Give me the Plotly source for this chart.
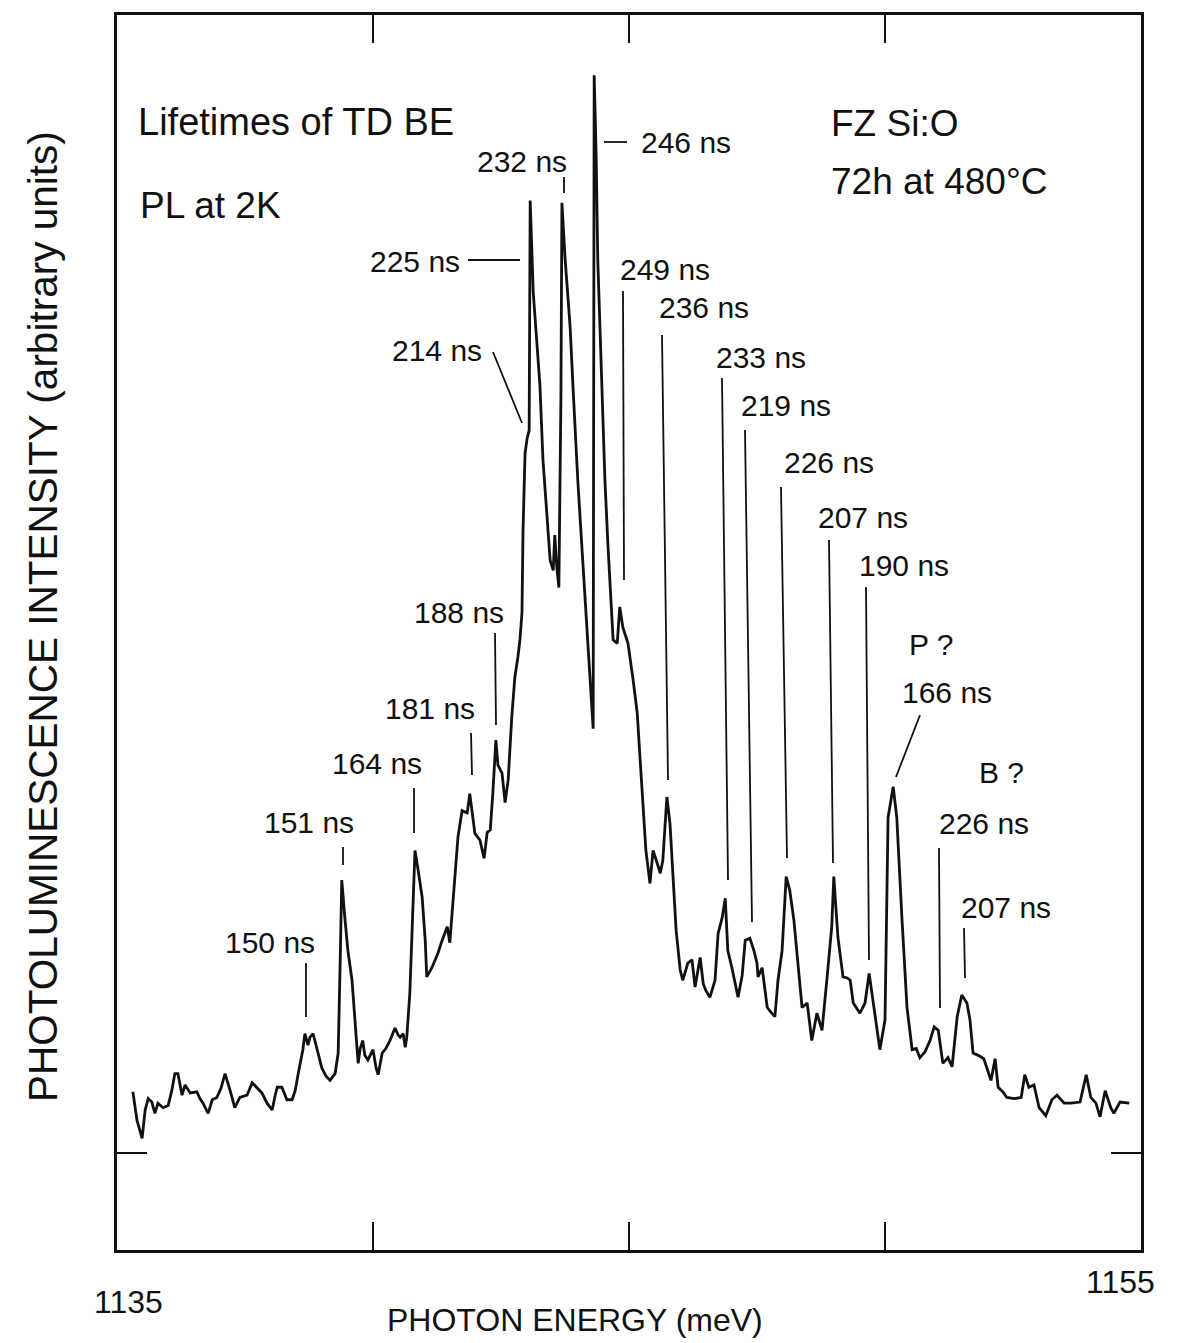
import plotly.graph_objects as go

# ---- data (photon energy in meV, PL intensity in arbitrary units) ----
energy = [
    1135.31, 1135.39, 1135.49, 1135.55, 1135.61, 1135.68, 1135.74, 1135.80, 1135.90, 1136.00,
    1136.07, 1136.13, 1136.19, 1136.27, 1136.33, 1136.43, 1136.56, 1136.62, 1136.68, 1136.74,
    1136.78, 1136.86, 1136.95, 1137.03, 1137.11, 1137.21, 1137.30, 1137.40, 1137.54, 1137.64,
    1137.73, 1137.83, 1137.93, 1138.03, 1138.09, 1138.13, 1138.22, 1138.32, 1138.42, 1138.48,
    1138.54, 1138.63, 1138.67, 1138.73, 1138.77, 1138.83, 1138.91, 1139.00, 1139.08, 1139.16,
    1139.26, 1139.32, 1139.36, 1139.39, 1139.45, 1139.51, 1139.59, 1139.65, 1139.71, 1139.75,
    1139.80, 1139.84, 1139.90, 1140.00, 1140.06, 1140.10, 1140.18, 1140.25, 1140.33, 1140.43,
    1140.49, 1140.53, 1140.59, 1140.63, 1140.66, 1140.72, 1140.78, 1140.82, 1140.88, 1140.96,
    1141.02, 1141.05, 1141.15, 1141.27, 1141.35, 1141.45, 1141.50, 1141.56, 1141.62, 1141.66,
    1141.74, 1141.84, 1141.89, 1141.99, 1142.09, 1142.17, 1142.23, 1142.29, 1142.34, 1142.40,
    1142.44, 1142.52, 1142.58, 1142.64, 1142.71, 1142.77, 1142.83, 1142.87, 1142.91, 1142.93,
    1142.97, 1143.01, 1143.05, 1143.07, 1143.13, 1143.20, 1143.26, 1143.32, 1143.38, 1143.42,
    1143.46, 1143.52, 1143.55, 1143.59, 1143.63, 1143.67, 1143.69, 1143.75, 1143.85, 1143.91,
    1144.00, 1144.10, 1144.20, 1144.26, 1144.30, 1144.32, 1144.36, 1144.39, 1144.47, 1144.53,
    1144.59, 1144.67, 1144.69, 1144.77, 1144.82, 1144.88, 1144.98, 1145.08, 1145.16, 1145.23,
    1145.33, 1145.41, 1145.47, 1145.55, 1145.61, 1145.66, 1145.74, 1145.80, 1145.86, 1145.92,
    1146.00, 1146.05, 1146.15, 1146.23, 1146.29, 1146.39, 1146.45, 1146.50, 1146.58, 1146.68,
    1146.74, 1146.82, 1146.88, 1146.93, 1147.01, 1147.13, 1147.21, 1147.27, 1147.36, 1147.44,
    1147.50, 1147.52, 1147.60, 1147.70, 1147.77, 1147.85, 1147.91, 1147.99, 1148.07, 1148.14,
    1148.22, 1148.28, 1148.38, 1148.48, 1148.57, 1148.67, 1148.77, 1148.87, 1148.96, 1149.00,
    1149.08, 1149.18, 1149.26, 1149.32, 1149.38, 1149.51, 1149.61, 1149.69, 1149.77, 1149.84,
    1149.90, 1150.00, 1150.06, 1150.16, 1150.23, 1150.33, 1150.43, 1150.53, 1150.61, 1150.68,
    1150.78, 1150.88, 1150.96, 1151.04, 1151.13, 1151.23, 1151.31, 1151.41, 1151.50, 1151.60,
    1151.66, 1151.72, 1151.82, 1151.93, 1152.07, 1152.15, 1152.21, 1152.30, 1152.38, 1152.52,
    1152.66, 1152.73, 1152.81, 1152.91, 1153.01, 1153.14, 1153.26, 1153.36, 1153.50, 1153.63,
    1153.81, 1153.93, 1154.02, 1154.12, 1154.20, 1154.30, 1154.41, 1154.47, 1154.59, 1154.77,
]
intensity = [
    5.4, 2.9, 1.3, 3.8, 4.8, 4.5, 3.5, 4.4, 4.0, 4.2,
    5.5, 7.0, 7.0, 5.1, 6.0, 5.3, 5.4, 4.8, 4.4, 3.8,
    3.5, 4.7, 4.9, 5.7, 7.0, 5.5, 4.0, 4.9, 5.1, 6.2,
    5.8, 5.3, 4.4, 3.8, 5.1, 5.8, 5.8, 4.7, 4.7, 5.5,
    7.0, 9.1, 10.5, 9.5, 10.2, 10.5, 9.1, 7.5, 6.8, 6.4,
    7.0, 8.8, 17.0, 24.0, 20.7, 17.8, 15.2, 11.7, 7.9, 9.2,
    9.9, 8.6, 8.2, 9.1, 7.5, 6.9, 8.8, 9.2, 9.9, 11.0,
    10.4, 10.2, 10.5, 9.3, 10.2, 14.1, 22.0, 26.6, 24.9, 22.5,
    18.7, 15.5, 16.3, 17.6, 18.7, 19.9, 18.5, 22.2, 26.2, 27.8,
    30.1, 29.9, 31.6, 28.1, 27.5, 25.9, 28.2, 28.4, 31.6, 36.3,
    34.1, 33.4, 30.8, 32.8, 38.3, 41.8, 43.6, 45.1, 47.5, 54.7,
    61.5, 62.8, 63.5, 83.7, 75.6, 71.4, 67.5, 60.9, 57.4, 54.7,
    52.1, 51.2, 54.3, 51.5, 49.7, 66.2, 83.5, 78.7, 72.6, 67.0,
    59.1, 51.8, 44.5, 39.8, 37.3, 94.7, 87.3, 78.5, 67.0, 59.1,
    53.3, 47.5, 45.1, 44.8, 48.0, 46.2, 44.8, 41.6, 38.7, 33.7,
    26.6, 23.7, 26.6, 25.5, 24.6, 25.7, 31.3, 29.0, 23.7, 19.6,
    16.1, 15.2, 16.7, 17.0, 14.6, 17.2, 14.9, 14.3, 13.7, 15.2,
    19.3, 20.7, 22.4, 17.8, 16.3, 13.7, 15.6, 18.7, 18.9, 17.8,
    16.7, 15.5, 16.3, 12.8, 12.4, 12.0, 15.2, 17.8, 24.3, 23.1,
    20.5, 17.8, 12.8, 13.2, 9.9, 12.3, 10.8, 15.5, 19.9, 24.3,
    19.0, 15.5, 15.4, 15.2, 13.2, 12.3, 13.2, 15.8, 13.4, 11.1,
    9.1, 11.7, 29.5, 32.2, 29.5, 20.7, 12.8, 9.1, 9.2, 8.4,
    8.9, 9.9, 11.1, 10.8, 7.9, 8.4, 7.6, 12.0, 13.9, 13.2,
    11.7, 8.8, 8.6, 8.3, 6.4, 8.3, 5.8, 5.4, 4.9, 4.8,
    4.9, 6.9, 5.8, 6.0, 4.0, 3.3, 4.7, 5.1, 4.4, 4.4,
    4.5, 6.9, 4.9, 4.4, 3.2, 5.5, 4.0, 3.5, 4.5, 4.4,
]
x_ticks = [1140, 1145, 1150]
x_end_labels = ["1135", "1155"]
lifetime_labels = ["232 ns", "246 ns", "225 ns", "214 ns", "249 ns", "236 ns", "233 ns",
                   "219 ns", "226 ns", "207 ns", "190 ns", "P ?", "166 ns", "B ?",
                   "226 ns", "207 ns", "188 ns", "181 ns", "164 ns", "151 ns", "150 ns"]
info_labels = ["Lifetimes of TD BE", "PL at 2K", "FZ Si:O", "72h at 480°C"]

# ---- layout geometry (pixels of the page) ----
W, H = 1196, 1343
L, R, T, B = 117, 1141, 15, 1250


def pp(x, y):
    """page pixel -> paper coordinates"""
    return (x - L) / (R - L), (B - y) / (B - T)


BODY = "Liberation Sans, Arial, sans-serif"
INK = "#111111"

fig = go.Figure()
fig.add_trace(go.Scatter(x=energy, y=intensity, mode="lines",
                         line=dict(color=INK, width=2.8), hoverinfo="skip",
                         showlegend=False))

annotations = []

# info text (left anchored, centre y)
info_pos = [(136, 122), (138, 205), (829, 124), (829, 181)]
info_size = [38, 37, 37, 37]
for txt, (x, y), s in zip(info_labels, info_pos, info_size):
    px_, py_ = pp(x, y)
    annotations.append(dict(text=txt, x=px_, y=py_, xref="paper", yref="paper",
                            xanchor="left", yanchor="middle", showarrow=False,
                            font=dict(family=BODY, size=s, color=INK)))

ns_pos = [(475, 162), (639, 142), (368, 262), (390, 350), (618, 270), (657, 308),
          (714, 357), (739, 405), (782, 462), (816, 517), (857, 565), (907, 645),
          (900, 692), (977, 772), (937, 823), (959, 907), (412, 613), (383, 708),
          (330, 763), (262, 822), (223, 942)]
for txt, (x, y) in zip(lifetime_labels, ns_pos):
    px_, py_ = pp(x, y)
    annotations.append(dict(text=txt, x=px_, y=py_, xref="paper", yref="paper",
                            xanchor="left", yanchor="middle", showarrow=False,
                            font=dict(family=BODY, size=30, color=INK)))

# axis titles / end labels
px_, py_ = pp(43, 617)
annotations.append(dict(text="PHOTOLUMINESCENCE INTENSITY (arbitrary units)",
                        x=px_, y=py_, xref="paper", yref="paper", textangle=-90,
                        xanchor="center", yanchor="middle", showarrow=False,
                        font=dict(family=BODY, size=40.5, color=INK)))
px_, py_ = pp(575, 1320)
annotations.append(dict(text="PHOTON ENERGY (meV)", x=px_, y=py_, xref="paper", yref="paper",
                        xanchor="center", yanchor="middle", showarrow=False,
                        font=dict(family=BODY, size=32, color=INK)))
for txt, (x, y) in zip(x_end_labels, [(128, 1302), (1120, 1282)]):
    px_, py_ = pp(x, y)
    annotations.append(dict(text=txt, x=px_, y=py_, xref="paper", yref="paper",
                            xanchor="center", yanchor="middle", showarrow=False,
                            font=dict(family=BODY, size=32, color=INK)))

# pointer lines
pointers = [(564, 177, 564, 193), (604, 142, 627, 142), (468, 260, 520, 260),
            (493, 352, 522, 423), (623, 291, 624, 580), (662, 335, 668, 780),
            (722, 378, 728, 880), (745, 430, 752, 922), (781, 487, 787, 858),
            (829, 540, 833, 863), (866, 587, 869, 960), (920, 715, 896, 777),
            (939, 848, 940, 1008), (964, 928, 965, 978), (495, 633, 496, 725),
            (471, 733, 472, 775), (414, 788, 414, 833), (343, 847, 343, 865),
            (306, 963, 306, 1017)]
shapes = []
for x0, y0, x1, y1 in pointers:
    a0, b0 = pp(x0, y0)
    a1, b1 = pp(x1, y1)
    shapes.append(dict(type="line", xref="paper", yref="paper", x0=a0, y0=b0, x1=a1, y1=b1,
                       line=dict(color=INK, width=1.8)))

fig.update_layout(
    width=W, height=H, autosize=False,
    margin=dict(l=L, r=W - R, t=T, b=H - B, pad=0),
    paper_bgcolor="white", plot_bgcolor="white",
    showlegend=False,
    annotations=annotations, shapes=shapes,
    xaxis=dict(range=[1135, 1155], showline=True, linecolor=INK, linewidth=2.5,
               mirror="ticks", ticks="inside", ticklen=28, tickwidth=2, tickcolor=INK,
               tickvals=x_ticks, showticklabels=False, showgrid=False, zeroline=False,
               fixedrange=True),
    yaxis=dict(range=[-8.5, 100], showline=True, linecolor=INK, linewidth=2.5,
               mirror="ticks", ticks="inside", ticklen=30, tickwidth=2, tickcolor=INK,
               tickvals=[0], showticklabels=False, showgrid=False, zeroline=False,
               fixedrange=True),
)

fig.write_html("out.html", config=dict(displayModeBar=False))
